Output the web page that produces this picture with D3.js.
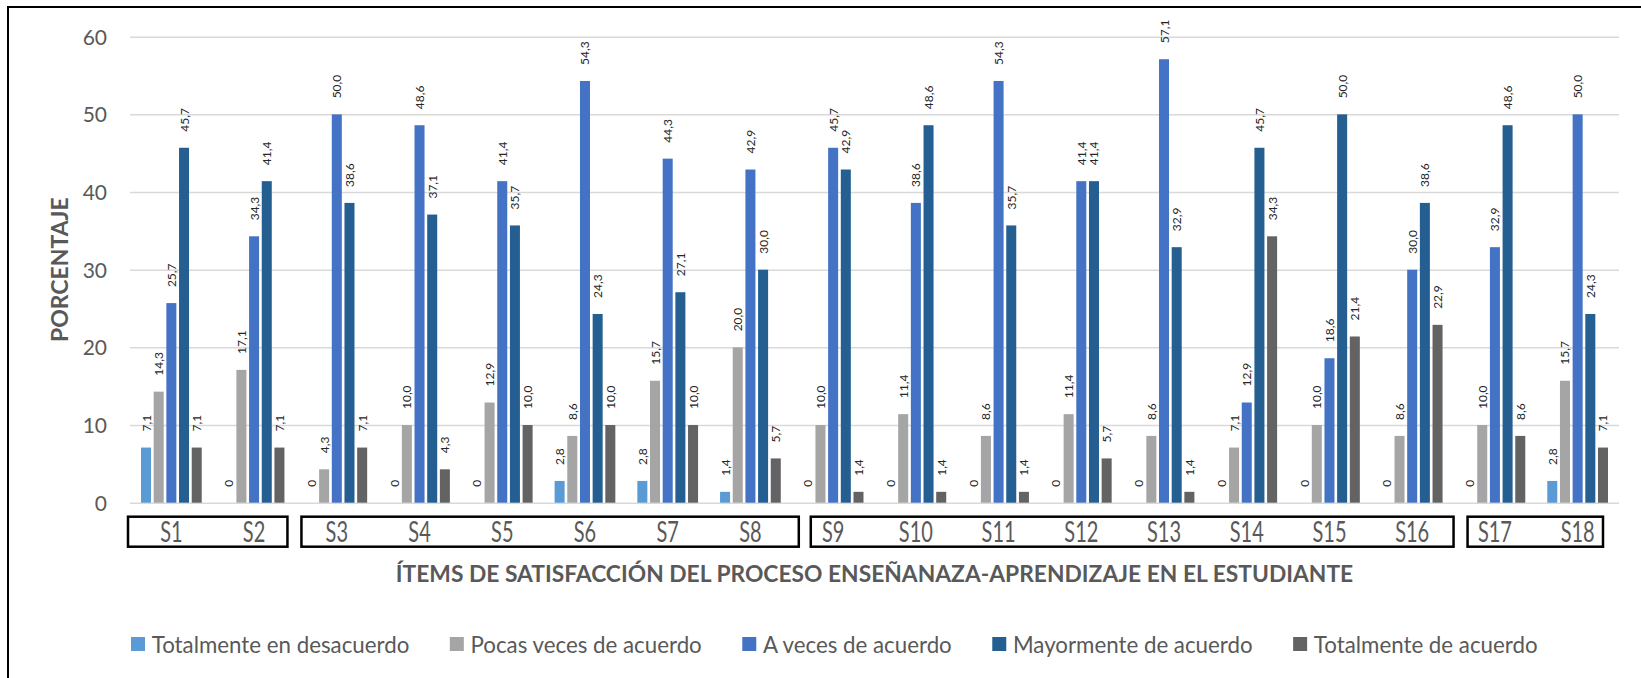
<!DOCTYPE html>
<html><head><meta charset="utf-8">
<script src="https://cdn.jsdelivr.net/npm/d3@7"></script>
<style>body{margin:0;background:#fff} svg{display:block} text{font-family:Lato, "Open Sans", sans-serif}</style>
</head><body><svg id="c" width="1641" height="678"></svg>
<script>
// ---------- data ----------
const categories = ["S1","S2","S3","S4","S5","S6","S7","S8","S9","S10","S11","S12","S13","S14","S15","S16","S17","S18"];
const seriesNames = ["Totalmente en desacuerdo","Pocas veces de acuerdo","A veces de acuerdo","Mayormente de acuerdo","Totalmente de acuerdo"];
const totalmenteDesacuerdo = [7.1,0,0,0,0,2.8,2.8,1.4,0,0,0,0,0,0,0,0,0,2.8];
const pocasVeces = [14.3,17.1,4.3,10.0,12.9,8.6,15.7,20.0,10.0,11.4,8.6,11.4,8.6,7.1,10.0,8.6,10.0,15.7];
const aVeces = [25.7,34.3,50.0,48.6,41.4,54.3,44.3,42.9,45.7,38.6,54.3,41.4,57.1,12.9,18.6,30.0,32.9,50.0];
const mayormente = [45.7,41.4,38.6,37.1,35.7,24.3,27.1,30.0,42.9,48.6,35.7,41.4,32.9,45.7,50.0,38.6,48.6,24.3];
const totalmenteAcuerdo = [7.1,7.1,7.1,4.3,10.0,10.0,10.0,5.7,1.4,1.4,1.4,5.7,1.4,34.3,21.4,22.9,8.6,7.1];
const yTicks = [0,10,20,30,40,50,60];
const itemGroups = [["S1","S2"],["S3","S8"],["S9","S16"],["S17","S18"]];
const yTitle = "PORCENTAJE";
const xTitle = "ÍTEMS DE SATISFACCIÓN DEL PROCESO ENSEÑANAZA-APRENDIZAJE EN EL ESTUDIANTE";

// ---------- styles / layout ----------
const colors = ["#5B9BD5","#A5A5A5","#4472C4","#255E91","#636363"];
const seriesValues = [totalmenteDesacuerdo, pocasVeces, aVeces, mayormente, totalmenteAcuerdo];
const plot = {left:130, right:1619, top:36.7, bottom:502.7};
const boxInsets = [[-2,8],[6,-7],[19,0],[14,16]];

const svg = d3.select("#c");
svg.append("rect").attr("x",8).attr("y",7).attr("width",1700).attr("height",700)
  .attr("fill","none").attr("stroke","#000").attr("stroke-width",2);

const y = d3.scaleLinear().domain([0,60]).range([plot.bottom, plot.top]);
const x0 = d3.scaleBand().domain(categories).range([plot.left, plot.right]).padding(0);
const bw = x0.bandwidth();
const x1 = d3.scaleBand().domain(seriesNames).range([bw*0.133, bw*0.867]).paddingInner(0.21);

// grid + y axis
const gy = svg.append("g").attr("transform",`translate(${plot.left},0)`)
  .call(d3.axisLeft(y).tickValues(yTicks).tickSize(-(plot.right-plot.left)).tickPadding(23).tickFormat(d3.format("d")));
gy.select(".domain").remove();
gy.selectAll(".tick line").attr("stroke","#D9D9D9").attr("stroke-width",1.5);
gy.selectAll(".tick text").attr("fill","#595959").style("font-size","21px").attr("dy","0.35em");

// bars
const rows = [];
seriesNames.forEach((s,si)=>categories.forEach((c,ci)=>rows.push({s,si,c,v:seriesValues[si][ci]})));
svg.append("g").selectAll("rect").data(rows).join("rect")
  .attr("x",d=>x0(d.c)+x1(d.s)).attr("width",x1.bandwidth())
  .attr("y",d=>y(d.v)).attr("height",d=>y(0)-y(d.v))
  .attr("fill",d=>colors[d.si]);

// data labels
const fmt = v => v===0 ? "0" : v.toFixed(1).replace(".",",");
svg.append("g").selectAll("text").data(rows).join("text")
  .attr("transform",d=>`translate(${x0(d.c)+x1(d.s)+x1.bandwidth()/2},${y(d.v)-16}) rotate(-90)`)
  .attr("text-anchor","start").attr("dominant-baseline","central")
  .attr("fill","#262626").style("font-size","12px").text(d=>fmt(d.v));

// category axis
const gx = svg.append("g").attr("transform",`translate(0,${plot.bottom})`)
  .call(d3.axisBottom(x0).tickSize(0));
gx.select(".domain").remove();
gx.selectAll(".tick text").attr("y",0).attr("dy",null).attr("dominant-baseline","central")
  .attr("transform","translate(0,28) scale(1,1.45)")
  .attr("fill","#595959").style("font-size","20px");

// group boxes
svg.append("g").selectAll("rect").data(itemGroups).join("rect")
  .attr("x",(g,i)=>x0(g[0])+boxInsets[i][0])
  .attr("width",(g,i)=>(x0(g[1])+bw-boxInsets[i][1])-(x0(g[0])+boxInsets[i][0]))
  .attr("y",y(0)+14).attr("height",30)
  .attr("fill","none").attr("stroke","#000").attr("stroke-width",2.5);

// axis titles
svg.append("text").attr("x",(plot.left+plot.right)/2).attr("y",573)
  .attr("text-anchor","middle").attr("dominant-baseline","central")
  .attr("fill","#595959").style("font-size","22.8px").style("font-weight","bold").text(xTitle);
svg.append("text").attr("transform",`translate(59,${(plot.top+plot.bottom)/2}) rotate(-90)`)
  .attr("text-anchor","middle").attr("dominant-baseline","central")
  .attr("fill","#595959").style("font-size","23px").style("font-weight","bold").text(yTitle);

// legend
const lg = svg.append("g").attr("transform","translate(131,644)");
let lx = 0;
seriesNames.forEach((s,i)=>{
  const it = lg.append("g").attr("transform",`translate(${lx},0)`);
  it.append("rect").attr("x",0).attr("y",-7).attr("width",14).attr("height",14).attr("fill",colors[i]);
  const t = it.append("text").attr("x",20.7).attr("dominant-baseline","central")
    .attr("fill","#595959").style("font-size","22.3px").text(s);
  lx += 20.7 + t.node().getComputedTextLength() + 40.5;
});
</script></body></html>
